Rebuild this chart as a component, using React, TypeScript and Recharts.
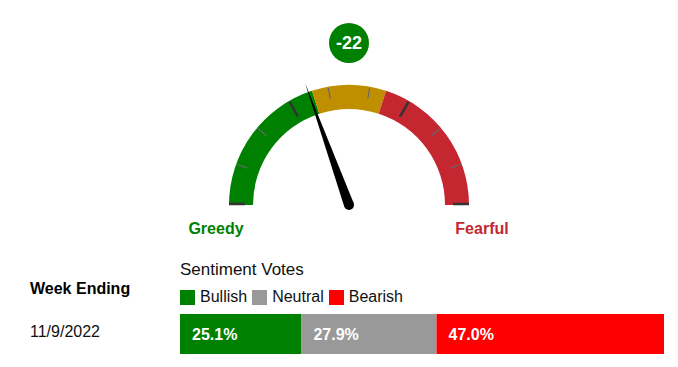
import React from 'react';
import { Bar, BarChart, Cell, LabelList, Pie, PieChart, XAxis, YAxis } from 'recharts';

// gauge
const gaugeValue = -22;
const gaugeMin = -100;
const gaugeMax = 100;
const bandNames = ['Greedy', 'Neutral', 'Fearful'];
const bandSizes = [80, 40, 80];
const bandColors = ['#008000', '#c08f00', '#c4272f'];

// votes
const weekEnding = '11/9/2022';
const voteNames = ['Bullish', 'Neutral', 'Bearish'];
const voteKeys = ['bullish', 'neutral', 'bearish'];
const voteValues = [25.1, 27.9, 47.0];
const voteColors = ['#008000', '#999999', '#ff0000'];

const FONT = '"Liberation Sans", Arial, sans-serif';
const CX = 349;
const CY = 205;
const INNER = 96;
const OUTER = 120;

const bandData = bandNames.map((name, i) => ({ name, value: bandSizes[i] }));
const voteRow: Record<string, string | number> = { week: weekEnding };
voteKeys.forEach((k, i) => (voteRow[k] = voteValues[i]));

const toAngle = (v: number) => 180 - ((v - gaugeMin) / (gaugeMax - gaugeMin)) * 180;
const pt = (deg: number, r: number) => {
  const a = (deg * Math.PI) / 180;
  return [CX + r * Math.cos(a), CY - r * Math.sin(a)];
};

// ticks, needle and labels drawn over the pie
const GaugeDecor = () => {
  const ticks = [];
  for (let i = 0; i <= 9; i++) {
    const deg = 180 - i * 20;
    const end = i === 0 || i === 9;
    const major = i === 3 || i === 6;
    const [x1, y1] = pt(deg, end ? 104 : major ? 102 : 108);
    const [x2, y2] = pt(deg, 119);
    ticks.push(
      <line
        key={i}
        x1={x1}
        y1={end ? y1 - 1 : y1}
        x2={end ? pt(deg, 120)[0] : x2}
        y2={end ? y1 - 1 : y2}
        stroke={end || major ? '#333' : '#666'}
        strokeWidth={end ? 2.5 : major ? 2.5 : 1.2}
      />
    );
  }
  const a = toAngle(gaugeValue);
  const [tx, ty] = pt(a, 130);
  const [lx, ly] = pt(a + 90, 5);
  const [rx, ry] = pt(a - 90, 5);
  return (
    <svg width={678} height={250} style={{ position: 'absolute', left: 0, top: 0, pointerEvents: 'none' }}>
      {ticks}
      <polygon points={`${tx},${ty} ${lx},${ly} ${rx},${ry}`} fill="#000" />
      <circle cx={CX} cy={CY} r={5} fill="#000" />
      <circle cx={CX} cy={43} r={20} fill="#008000" />
      <text x={CX} y={49} textAnchor="middle" fill="#fff" fontSize={18} fontWeight="bold" fontFamily={FONT}>
        {gaugeValue}
      </text>
      <text x={216} y={234} textAnchor="middle" fill="#008000" fontSize={16} fontWeight="bold" fontFamily={FONT}>
        Greedy
      </text>
      <text x={482} y={234} textAnchor="middle" fill="#c4272f" fontSize={16} fontWeight="bold" fontFamily={FONT}>
        Fearful
      </text>
    </svg>
  );
};

export default function App() {
  return (
    <div style={{ position: 'absolute', left: 0, top: 0, width: 678, height: 367, background: '#fff', fontFamily: FONT }}>
      <div style={{ position: 'absolute', left: 0, top: 0 }}>
        <PieChart width={678} height={250} margin={{ top: 0, right: 0, bottom: 0, left: 0 }}>
          <Pie
            data={bandData}
            dataKey="value"
            cx={CX}
            cy={CY}
            startAngle={180}
            endAngle={0}
            innerRadius={INNER}
            outerRadius={OUTER}
            stroke="none"
            isAnimationActive={false}
          >
            {bandData.map((d, i) => (
              <Cell key={d.name} fill={bandColors[i]} />
            ))}
          </Pie>
        </PieChart>
      </div>
      <GaugeDecor />

      <div style={{ position: 'absolute', left: 30, top: 280, fontSize: 16, fontWeight: 'bold', color: '#000' }}>
        Week Ending
      </div>
      <div style={{ position: 'absolute', left: 30, top: 323, fontSize: 16, color: '#111' }}>{weekEnding}</div>

      <div style={{ position: 'absolute', left: 180, top: 260, fontSize: 17, color: '#111' }}>Sentiment Votes</div>
      <div style={{ position: 'absolute', left: 180, top: 288, display: 'flex', alignItems: 'center', fontSize: 16, color: '#111' }}>
        {voteNames.map((n, i) => (
          <span key={n} style={{ display: 'flex', alignItems: 'center', marginRight: 5 }}>
            <span style={{ width: 15, height: 15, background: voteColors[i], marginRight: 5 }} />
            {n}
          </span>
        ))}
      </div>

      <div style={{ position: 'absolute', left: 180, top: 314 }}>
        <BarChart
          width={484}
          height={40}
          data={[voteRow]}
          layout="vertical"
          barCategoryGap={0}
          margin={{ top: 0, right: 0, bottom: 0, left: 0 }}
        >
          <XAxis type="number" domain={[0, 100]} hide />
          <YAxis type="category" dataKey="week" hide />
          {voteKeys.map((k, i) => (
            <Bar key={k} dataKey={k} stackId="v" fill={voteColors[i]} isAnimationActive={false}>
              <LabelList
                dataKey={k}
                position="insideLeft"
                offset={12}
                fill="#fff"
                fontSize={16}
                fontWeight="bold"
                fontFamily={FONT}
                formatter={(v: number) => `${v.toFixed(1)}%`}
              />
            </Bar>
          ))}
        </BarChart>
      </div>
    </div>
  );
}
